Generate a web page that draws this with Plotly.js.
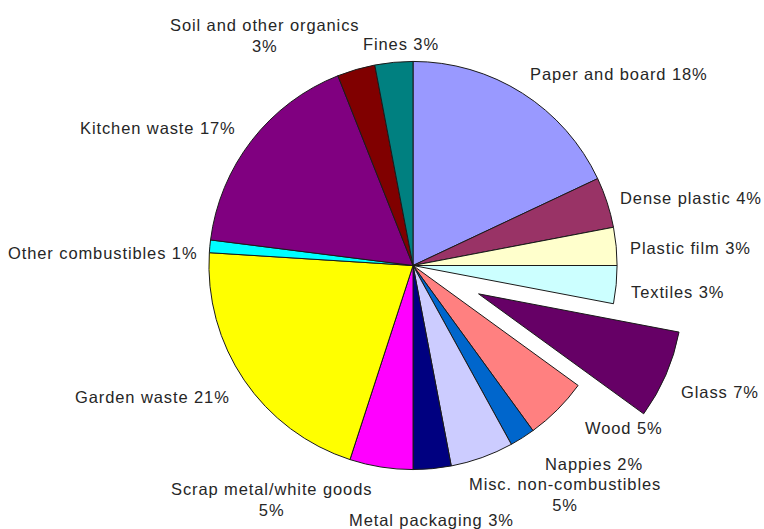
<!DOCTYPE html>
<html>
<head>
<meta charset="utf-8">
<script src="https://cdn.plot.ly/plotly-3.0.1.min.js"></script>
<style>
html, body { margin: 0; padding: 0; width: 764px; height: 529px; overflow: hidden; background: #fff; }
#chart { position: absolute; left: 0; top: -10px; width: 764px; height: 551px; }
.annotation-text { letter-spacing: 0.9px; }
</style>
</head>
<body>
<div id="chart"></div>
<script>
// ---- data ----
var categories = ["Paper and board", "Dense plastic", "Plastic film", "Textiles", "Glass", "Wood",
  "Nappies", "Misc. non-combustibles", "Metal packaging", "Scrap metal/white goods", "Garden waste",
  "Other combustibles", "Kitchen waste", "Soil and other organics", "Fines"];
var shares = [18, 4, 3, 3, 7, 5, 2, 5, 3, 5, 21, 1, 17, 3, 3];
var labelBreak = [false, false, false, false, false, false, false, true, false, true, false, false, false, true, false];

// ---- styles ----
var colors = ["#9999FF", "#993366", "#FFFFCC", "#CCFFFF", "#660066", "#FF8080",
  "#0066CC", "#CCCCFF", "#000080", "#FF00FF", "#FFFF00", "#00FFFF", "#800080", "#800000", "#008080"];
var pulls = categories.map(function (c) { return c === "Glass" ? 0.35 : 0; });
// label anchor points (pixels in the 764x529 picture)
var labelPos = [[619, 74], [691, 198], [690, 248], [677, 292], [720, 392], [624, 428],
  [594, 464], [565, 494], [431, 520], [271, 500], [152, 397], [103, 253], [158, 128], [264, 36], [401, 44]];

var W = 764, H = 551, TOP = -10;
function px2paper(p) { return { x: p[0] / W, y: 1 - (p[1] - TOP) / H }; }

var annotations = categories.map(function (c, i) {
  var pos = px2paper(labelPos[i]);
  var txt = c + (labelBreak[i] ? "<br>" : " ") + shares[i] + "%";
  return {
    text: txt, x: pos.x, y: pos.y, xref: "paper", yref: "paper",
    xanchor: "center", yanchor: "middle", showarrow: false, align: "center",
    font: { family: "Liberation Sans, Arial, sans-serif", size: 16.5, color: "#262626" }
  };
});

var trace = {
  type: "pie",
  labels: categories,
  values: shares,
  sort: false,
  direction: "clockwise",
  rotation: 0,
  pull: pulls,
  textinfo: "none",
  hoverinfo: "label+percent",
  marker: { colors: colors, line: { color: "#1a1a1a", width: 1 } },
  domain: { x: [0.0812, 1], y: [0, 1] },
  showlegend: false
};

Plotly.newPlot("chart", [trace], {
  width: W, height: H,
  margin: { l: 0, r: 0, t: 0, b: 0 },
  paper_bgcolor: "#fff",
  showlegend: false,
  annotations: annotations
}, { displayModeBar: false, staticPlot: true });
</script>
</body>
</html>
